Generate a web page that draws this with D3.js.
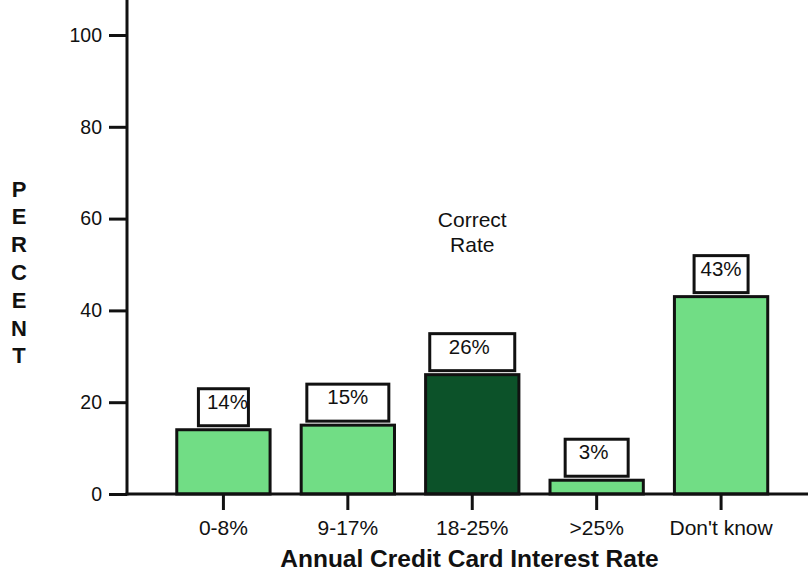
<!DOCTYPE html>
<html>
<head>
<meta charset="utf-8">
<script src="https://cdn.jsdelivr.net/npm/d3@7"></script>
<style>
  html, body { margin: 0; padding: 0; background: #fff; }
  svg { display: block; font-family: Arial, "Liberation Sans", Helvetica, sans-serif; }
</style>
</head>
<body>
<svg id="chart" width="808" height="574"></svg>
<script>
// Survey answers: what annual interest rate is charged on the credit card
const categories = ["0-8%", "9-17%", "18-25%", ">25%", "Don't know"];
const percents = [14, 15, 26, 3, 43];
const valueLabels = ["14%", "15%", "26%", "3%", "43%"];
const correctCategory = "18-25%";
const yTicks = [0, 20, 40, 60, 80, 100];

// Label box sizing per bar (drawing detail)
const boxWidths = [50, 82, 85, 63, 54];
const labelShift = [4, 0, -3, -3, 0];

const svg = d3.select("#chart");
const W = 808, H = 574;
const axisX = 127, axisY = 494;
const FONT = "Arial, 'Liberation Sans', sans-serif";

const y = d3.scaleLinear().domain([0, 100]).range([axisY, 35]);
const x = d3.scaleBand().domain(categories)
  .range([axisX, 817.5]).paddingInner(0.25).paddingOuter(0.4);

// Bars
svg.append("g").selectAll("rect")
  .data(categories)
  .join("rect")
  .attr("x", d => x(d))
  .attr("y", (d, i) => y(percents[i]))
  .attr("width", x.bandwidth())
  .attr("height", (d, i) => y(0) - y(percents[i]))
  .attr("fill", d => d === correctCategory ? "#0c5229" : "#71dd85")
  .attr("stroke", "#111")
  .attr("stroke-width", 3);

// Value boxes above bars
const labels = svg.append("g").selectAll("g")
  .data(categories)
  .join("g");
labels.append("rect")
  .attr("x", (d, i) => x(d) + x.bandwidth() / 2 - boxWidths[i] / 2)
  .attr("y", (d, i) => y(percents[i]) - 4 - 37)
  .attr("width", (d, i) => boxWidths[i])
  .attr("height", 37)
  .attr("fill", "#fff")
  .attr("stroke", "#111")
  .attr("stroke-width", 3);
labels.append("text")
  .attr("x", (d, i) => x(d) + x.bandwidth() / 2 + labelShift[i])
  .attr("y", (d, i) => y(percents[i]) - 41 + 20)
  .attr("text-anchor", "middle")
  .attr("font-size", 20.5)
  .attr("fill", "#111")
  .text((d, i) => valueLabels[i]);

// Y axis
const yAxis = d3.axisLeft(y).tickValues(yTicks).tickSize(18).tickPadding(7);
const gy = svg.append("g").attr("transform", `translate(${axisX},0)`).call(yAxis);
gy.select(".domain").remove();
gy.selectAll(".tick line").attr("stroke", "#111").attr("stroke-width", 3);
gy.selectAll(".tick text").attr("font-size", 19.5).attr("fill", "#111")
  .attr("font-family", FONT);

// X axis
const xAxis = d3.axisBottom(x).tickSize(16).tickPadding(10);
const gx = svg.append("g").attr("transform", `translate(0,${axisY})`).call(xAxis);
gx.select(".domain").remove();
gx.selectAll(".tick line").attr("stroke", "#111").attr("stroke-width", 3);
gx.selectAll(".tick text").attr("font-size", 21).attr("fill", "#111")
  .attr("font-family", FONT);

// Axis lines
svg.append("line").attr("x1", axisX).attr("x2", axisX).attr("y1", 0).attr("y2", axisY + 1.5)
  .attr("stroke", "#111").attr("stroke-width", 3);
svg.append("line").attr("x1", axisX - 1.5).attr("x2", W).attr("y1", axisY).attr("y2", axisY)
  .attr("stroke", "#111").attr("stroke-width", 3);

// Annotation for the correct answer
const cx = x(correctCategory) + x.bandwidth() / 2;
const note = svg.append("text")
  .attr("text-anchor", "middle")
  .attr("font-size", 21)
  .attr("fill", "#111");
note.append("tspan").attr("x", cx).attr("y", 227).text("Correct");
note.append("tspan").attr("x", cx).attr("y", 252).text("Rate");

// Axis titles
svg.append("text")
  .attr("x", 469.5)
  .attr("y", 567)
  .attr("text-anchor", "middle")
  .attr("font-size", 24.5)
  .attr("font-weight", "bold")
  .attr("fill", "#111")
  .text("Annual Credit Card Interest Rate");

const yTitle = "PERCENT".split("");
svg.append("g").selectAll("text")
  .data(yTitle)
  .join("text")
  .attr("x", 19)
  .attr("y", (d, i) => 196.5 + i * 27.8)
  .attr("text-anchor", "middle")
  .attr("font-size", 22)
  .attr("font-weight", "bold")
  .attr("fill", "#111")
  .text(d => d);
</script>
</body>
</html>
